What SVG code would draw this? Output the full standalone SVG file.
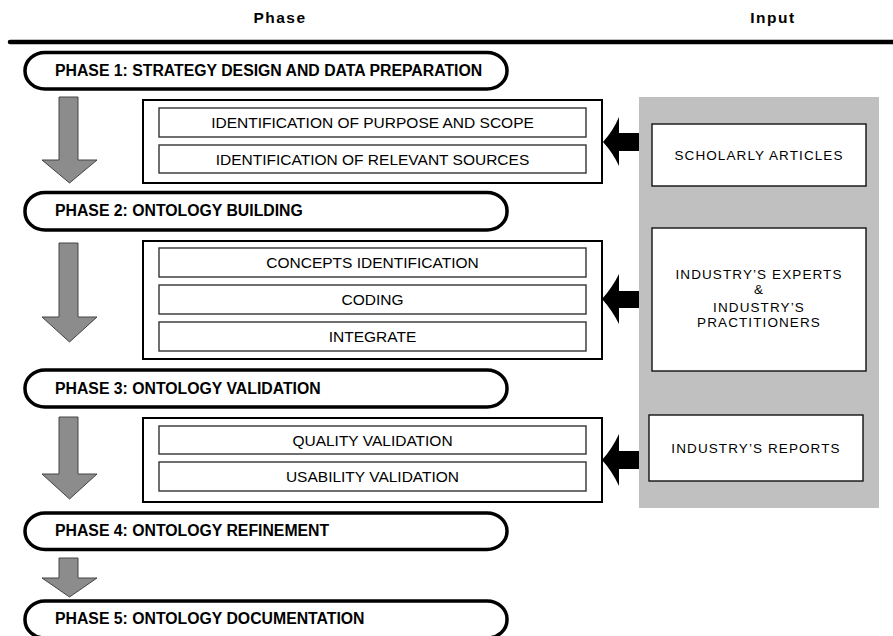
<svg xmlns="http://www.w3.org/2000/svg" width="893" height="636" viewBox="0 0 893 636">
<style>
.hdr{font-family:"Liberation Sans",Arial,sans-serif;font-weight:bold;font-size:15.5px;letter-spacing:1.5px;fill:#000;text-anchor:middle}
.pill{fill:#fff;stroke:#000;stroke-width:3.5}
.ptxt{font-family:"Liberation Sans",Arial,sans-serif;font-weight:bold;font-size:15.8px;fill:#000}
.cont{fill:#fff;stroke:#000;stroke-width:2}
.sub{fill:#fff;stroke:#333;stroke-width:1.4}
.stxt{font-family:"Liberation Sans",Arial,sans-serif;font-size:15.5px;fill:#000;text-anchor:middle}
.inbox{fill:#fff;stroke:#111;stroke-width:1.4}
.itxt{font-family:"Liberation Sans",Arial,sans-serif;font-size:13.5px;letter-spacing:1.1px;fill:#000;text-anchor:middle}
.garrow{fill:#8c8c8c;stroke:#444;stroke-width:1}
.barrow{fill:#000}
</style>

<g id="header">
<text class="hdr" x="280" y="23">Phase</text>
<text class="hdr" x="773" y="23">Input</text>
<line x1="10" y1="42" x2="893" y2="42" stroke="#000" stroke-width="4.5" stroke-linecap="round"/>
</g>

<rect id="input-panel" x="639" y="97" width="240" height="411" fill="#c0c0c0"/>

<g id="phase1">
<rect class="pill" x="25" y="52.5" width="482" height="36.5" rx="20" ry="18"/>
<text class="ptxt" x="55" y="76">PHASE 1: STRATEGY DESIGN AND DATA PREPARATION</text>
</g>
<g id="phase2">
<rect class="pill" x="25" y="192.5" width="482" height="37.5" rx="20" ry="18"/>
<text class="ptxt" x="55" y="216">PHASE 2: ONTOLOGY BUILDING</text>
</g>
<g id="phase3">
<rect class="pill" x="25" y="370" width="482" height="37" rx="20" ry="18"/>
<text class="ptxt" x="55" y="394">PHASE 3: ONTOLOGY VALIDATION</text>
</g>
<g id="phase4">
<rect class="pill" x="25" y="513" width="482" height="36.5" rx="20" ry="18"/>
<text class="ptxt" x="55" y="536">PHASE 4: ONTOLOGY REFINEMENT</text>
</g>
<g id="phase5">
<rect class="pill" x="25" y="601" width="482" height="37" rx="20" ry="18"/>
<text class="ptxt" x="55" y="624">PHASE 5: ONTOLOGY DOCUMENTATION</text>
</g>

<g id="steps1">
<rect class="cont" x="143" y="100" width="459" height="83"/>
<g id="step-purpose"><rect class="sub" x="159" y="108" width="427" height="29"/>
<text class="stxt" x="372.5" y="128">IDENTIFICATION OF PURPOSE AND SCOPE</text></g>
<g id="step-sources"><rect class="sub" x="159" y="145" width="427" height="28"/>
<text class="stxt" x="372.5" y="164.5">IDENTIFICATION OF RELEVANT SOURCES</text></g>
</g>

<g id="steps2">
<rect class="cont" x="143" y="241" width="459" height="118"/>
<g id="step-concepts"><rect class="sub" x="159" y="248" width="427" height="29"/>
<text class="stxt" x="372.5" y="268">CONCEPTS IDENTIFICATION</text></g>
<g id="step-coding"><rect class="sub" x="159" y="285" width="427" height="29"/>
<text class="stxt" x="372.5" y="305">CODING</text></g>
<g id="step-integrate"><rect class="sub" x="159" y="322" width="427" height="29"/>
<text class="stxt" x="372.5" y="342">INTEGRATE</text></g>
</g>

<g id="steps3">
<rect class="cont" x="143" y="418" width="459" height="84"/>
<g id="step-quality"><rect class="sub" x="159" y="426" width="427" height="28"/>
<text class="stxt" x="372.5" y="445.5">QUALITY VALIDATION</text></g>
<g id="step-usability"><rect class="sub" x="159" y="462" width="427" height="29"/>
<text class="stxt" x="372.5" y="482">USABILITY VALIDATION</text></g>
</g>

<g id="input-scholarly">
<rect class="inbox" x="652" y="124" width="214" height="62"/>
<text class="itxt" x="759" y="160">SCHOLARLY ARTICLES</text>
</g>
<g id="input-experts">
<rect class="inbox" x="652" y="228" width="214" height="143"/>
<text class="itxt" x="759" y="279">INDUSTRY’S EXPERTS</text>
<text class="itxt" x="759" y="294">&amp;</text>
<text class="itxt" x="759" y="312">INDUSTRY’S</text>
<text class="itxt" x="759" y="327">PRACTITIONERS</text>
</g>
<g id="input-reports">
<rect class="inbox" x="649" y="415" width="214" height="66"/>
<text class="itxt" x="756" y="452.5">INDUSTRY’S REPORTS</text>
</g>

<g id="connectors">
<path class="garrow" d="M59,97 H78 V160 H97 L69.5,183 L42,160 H59 Z"/>
<path class="garrow" d="M59,243 H78 V317 H97 L69.5,342 L42,317 H59 Z"/>
<path class="garrow" d="M59,417 H78 V474 H97 L69.5,499 L42,474 H59 Z"/>
<path class="garrow" d="M59,558 H78 V578 H97 L69.5,597 L42,578 H59 Z"/>
<path class="barrow" d="M603,142 Q613,131 619,117 V133 H639 V151 H619 V166 Q613,153 603,142 Z"/>
<path class="barrow" d="M602,299 Q612,288 619,274 V291 H639 V308 H619 V324 Q612,310 602,299 Z"/>
<path class="barrow" d="M602,460 Q612,449 619,434 V451 H639 V469 H619 V486 Q612,471 602,460 Z"/>
</g>
</svg>
